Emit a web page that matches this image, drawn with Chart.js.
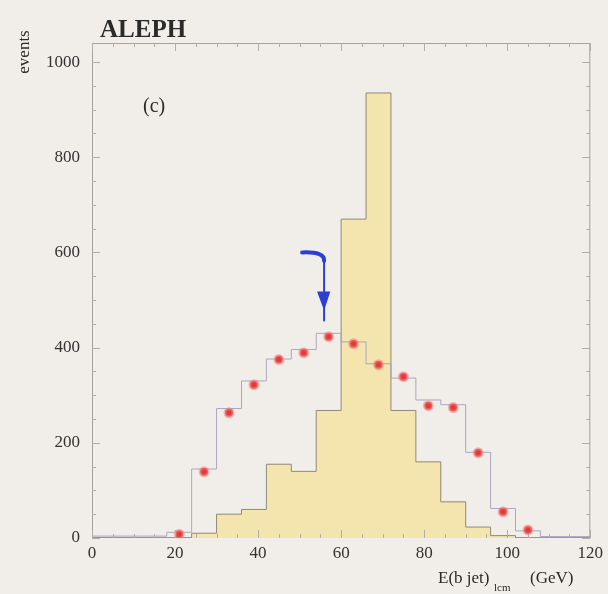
<!DOCTYPE html>
<html>
<head>
<meta charset="utf-8">
<script src="https://cdn.jsdelivr.net/npm/chart.js@4/dist/chart.umd.min.js"></script>
<style>
  html, body { margin: 0; padding: 0; background: #f1eee9; }
  canvas { display: block; }
</style>
</head>
<body>
<canvas id="c" width="608" height="594"></canvas>
<script>
// 6 GeV bins, lower edges
const binEdges = [0, 6, 12, 18, 24, 30, 36, 42, 48, 54, 60, 66, 72, 78, 84, 90, 96, 102, 108, 114]
const xMax = 120

// shaded histogram (yellow)
const signalMC = [0, 0, 0, 0, 10, 50, 60, 155, 140, 268, 670, 935, 268, 160, 76, 23, 5, 0, 0, 0]

// thin outline histogram
const totalMC = [4, 4, 4, 12, 145, 272, 330, 376, 396, 430, 412, 366, 336, 290, 280, 180, 62, 15, 3, 3]

// data points at bin centres
const dataX = [21, 27, 33, 39, 45, 51, 57, 63, 69, 75, 81, 87, 93, 99, 105]
const dataY = [8, 139, 263, 322, 375, 389, 423, 408, 364, 339, 278, 274, 179, 55, 17]

const yTicks = [0, 200, 400, 600, 800, 1000]
const xTicks = [0, 20, 40, 60, 80, 100, 120]

// hand drawn arrow, in data units
const arrowHook = [[50.6, 600], [55.2, 600], [55.9, 582]]
const arrowShaft = [[55.9, 582], [55.9, 457]]
const arrowHead = [[54.2, 518], [57.4, 518], [55.9, 478]]

function steps(values) {
  const pts = binEdges.map((e, i) => ({x: e, y: values[i]}))
  pts.push({x: xMax, y: 0})
  return pts
}

const serif = '"Liberation Serif", "DejaVu Serif", serif'

const decor = {
  id: 'decor',
  beforeDatasetsDraw(chart) {
    const {ctx, chartArea: a} = chart
    ctx.save()
    ctx.strokeStyle = '#a5a39b'
    ctx.lineWidth = 1
    ctx.strokeRect(a.left + 0.5, a.top + 0.5, a.right - a.left - 1, a.bottom - a.top - 1)
    ctx.restore()
  },
  afterDraw(chart) {
    const {ctx, chartArea: a} = chart
    const xs = chart.scales.x
    const ys = chart.scales.y
    ctx.save()

    // inside ticks
    ctx.strokeStyle = '#b0aea6'
    ctx.lineWidth = 1
    for (let v = 0; v <= 1000; v += 50) {
      const y = Math.round(ys.getPixelForValue(v)) + 0.5
      const len = v % 200 === 0 ? 8 : 4
      ctx.beginPath()
      ctx.moveTo(a.left, y); ctx.lineTo(a.left + len, y)
      ctx.moveTo(a.right, y); ctx.lineTo(a.right - len, y)
      ctx.stroke()
    }
    for (let v = 0; v <= xMax; v += 5) {
      const x = Math.round(xs.getPixelForValue(v)) + 0.5
      const len = v % 20 === 0 ? 8 : 4
      ctx.beginPath()
      ctx.moveTo(x, a.bottom); ctx.lineTo(x, a.bottom - len)
      ctx.moveTo(x, a.top); ctx.lineTo(x, a.top + len)
      ctx.stroke()
    }

    // arrow
    const px = (p) => [xs.getPixelForValue(p[0]), ys.getPixelForValue(p[1])]
    ctx.strokeStyle = '#2b3fd6'
    ctx.fillStyle = '#2b3fd6'
    ctx.lineCap = 'round'
    ctx.lineWidth = 4
    const h = arrowHook.map(px)
    ctx.beginPath()
    ctx.moveTo(h[0][0], h[0][1])
    ctx.quadraticCurveTo(h[1][0] + 4, h[1][1] - 1, h[2][0], h[2][1])
    ctx.stroke()
    ctx.lineWidth = 2
    const s = arrowShaft.map(px)
    ctx.beginPath()
    ctx.moveTo(s[0][0], s[0][1]); ctx.lineTo(s[1][0], s[1][1])
    ctx.stroke()
    const t = arrowHead.map(px)
    ctx.beginPath()
    ctx.moveTo(t[0][0], t[0][1]); ctx.lineTo(t[1][0], t[1][1]); ctx.lineTo(t[2][0], t[2][1])
    ctx.closePath()
    ctx.fill()

    // texts
    ctx.fillStyle = '#2a2a2a'
    ctx.textBaseline = 'alphabetic'
    ctx.textAlign = 'left'
    ctx.font = 'bold 25px ' + serif
    ctx.fillText('ALEPH', 100, 37)

    ctx.font = '20px ' + serif
    ctx.fillText('(c)', 143, 112)

    ctx.save()
    ctx.translate(29, 52)
    ctx.rotate(-Math.PI / 2)
    ctx.textAlign = 'center'
    ctx.font = '17px ' + serif
    ctx.fillText('events', 0, 0)
    ctx.restore()

    ctx.font = '17px ' + serif
    ctx.fillText('E(b jet)', 438, 583)
    ctx.font = '11px ' + serif
    ctx.fillText('lcm', 494, 591)
    ctx.font = '17px ' + serif
    ctx.fillText('(GeV)', 530, 583)

    ctx.restore()
  },
}

new Chart(document.getElementById('c'), {
  type: 'scatter',
  data: {
    datasets: [
      {
        label: 'data',
        data: dataX.map((x, i) => ({x, y: dataY[i]})),
        pointRadius: 4,
        pointBackgroundColor: '#e23a3a',
        pointBorderColor: 'rgba(240, 130, 130, 0.55)',
        pointBorderWidth: 3,
        showLine: false,
      },
      {
        label: 'total',
        data: steps(totalMC),
        showLine: true,
        stepped: 'before',
        borderColor: '#a9a7c2',
        borderWidth: 1,
        pointRadius: 0,
        fill: false,
      },
      {
        label: 'signal',
        data: steps(signalMC),
        showLine: true,
        stepped: 'before',
        borderColor: '#8e8a76',
        borderWidth: 1,
        backgroundColor: '#f3e5ad',
        pointRadius: 0,
        fill: 'origin',
      },
    ],
  },
  options: {
    responsive: false,
    animation: false,
    devicePixelRatio: 1,
    layout: {padding: {left: 0, right: 17, top: 43, bottom: 0}},
    plugins: {
      legend: {display: false},
      tooltip: {enabled: false},
    },
    scales: {
      x: {
        type: 'linear',
        min: 0,
        max: xMax,
        grid: {display: false, drawTicks: false},
        border: {display: false},
        afterFit: (s) => { s.height = 56 },
        afterBuildTicks: (s) => { s.ticks = xTicks.map((v) => ({value: v})) },
        ticks: {
          padding: 5,
          color: '#333',
          font: {family: serif, size: 17},
          maxRotation: 0,
          callback: (v) => String(v),
        },
      },
      y: {
        type: 'linear',
        min: 0,
        max: 1040,
        grid: {display: false, drawTicks: false},
        border: {display: false},
        afterFit: (s) => { s.width = 92 },
        afterBuildTicks: (s) => { s.ticks = yTicks.map((v) => ({value: v})) },
        ticks: {
          padding: 12,
          color: '#333',
          font: {family: serif, size: 17},
          callback: (v) => String(v),
        },
      },
    },
  },
  plugins: [decor],
})
</script>
</body>
</html>
